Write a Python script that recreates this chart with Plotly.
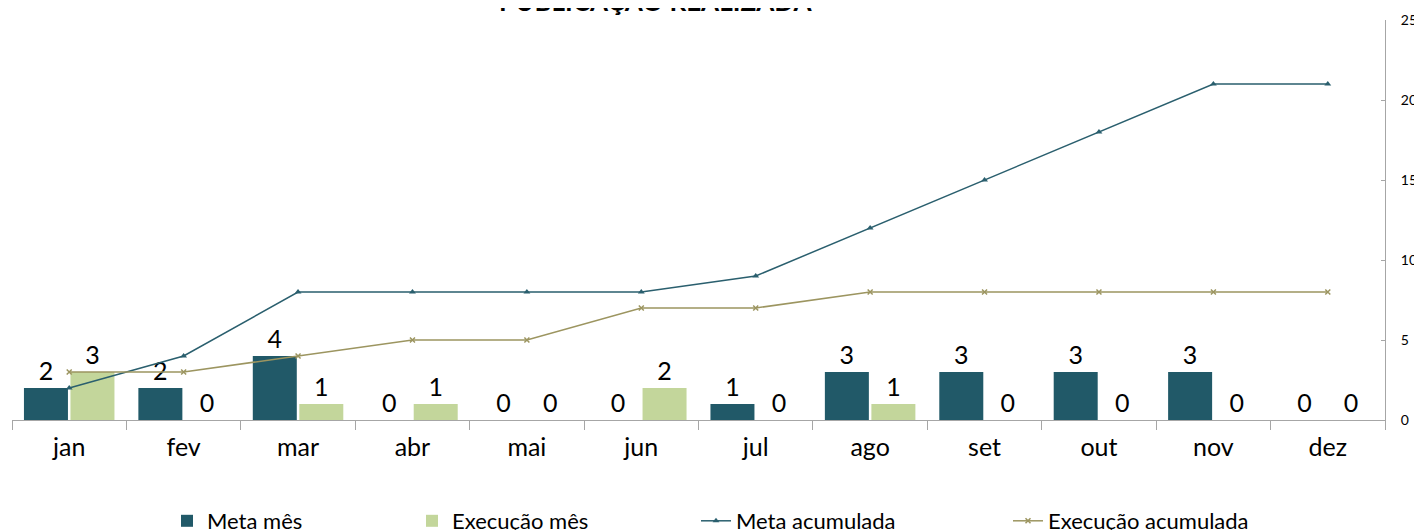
import plotly.graph_objects as go

months = ["jan", "fev", "mar", "abr", "mai", "jun", "jul", "ago", "set", "out", "nov", "dez"]
meta_mes = [2, 2, 4, 0, 0, 0, 1, 3, 3, 3, 3, 0]
exec_mes = [3, 0, 1, 1, 0, 2, 0, 1, 0, 0, 0, 0]
meta_acum = [2, 4, 8, 8, 8, 8, 9, 12, 15, 18, 21, 21]
exec_acum = [3, 3, 4, 5, 5, 7, 7, 8, 8, 8, 8, 8]

# page body has an 8px margin: figure pixel (x, y) shows at screen (x+8, y+8)
OFF = 8
W, H = 1414, 522
ML, MT = 12 - OFF, 20 - OFF
PR, PB = 1385 - OFF, 420 - OFF
MR, MB = W - PR, H - PB
PW = W - ML - MR
PH = H - MT - MB

def px_x(sx):
    return (sx - OFF - ML) / PW

def px_y(sy):
    return (PB - (sy - OFF)) / PH

def cx(sx):
    return (sx - OFF) / W

def cy(sy):
    return (H - (sy - OFF)) / H

FONT = "Lato"
C_META = "#215968"
C_EXEC = "#C3D69B"
C_LMETA = "#2A5F6E"
C_LEXEC = "#9C9560"

fig = go.Figure()
fig.add_trace(go.Bar(
    x=months, y=meta_mes, name="Meta mês", marker=dict(color=C_META, line=dict(width=0)),
    text=meta_mes, textposition="outside", textfont=dict(size=25, color="black", family=FONT),
    constraintext="none", cliponaxis=False, legend="legend",
))
fig.add_trace(go.Bar(
    x=months, y=exec_mes, name="Execução mês", marker=dict(color=C_EXEC, line=dict(width=0)),
    text=exec_mes, textposition="outside", textfont=dict(size=25, color="black", family=FONT),
    constraintext="none", cliponaxis=False, legend="legend2",
))
fig.add_trace(go.Scatter(
    x=months, y=meta_acum, name="Meta acumulada", mode="lines+markers",
    line=dict(color=C_LMETA, width=1.5), marker=dict(symbol="triangle-up", size=6, color=C_LMETA),
    legend="legend3",
))
fig.add_trace(go.Scatter(
    x=months, y=exec_acum, name="Execução acumulada", mode="lines+markers",
    line=dict(color=C_LEXEC, width=1.5), marker=dict(symbol="x-thin", size=5, color=C_LEXEC, line=dict(color=C_LEXEC, width=1.5)),
    legend="legend4",
))

leg_common = dict(orientation="h", yanchor="middle", xanchor="left", xref="container", yref="container",
                  font=dict(size=22, family=FONT, color="black"), itemwidth=30, bgcolor="rgba(0,0,0,0)")
ly = cy(521)

fig.update_layout(
    width=W, height=H,
    showlegend=True,
    margin=dict(l=ML, r=MR, t=MT, b=MB, autoexpand=False),
    plot_bgcolor="white", paper_bgcolor="white",
    barmode="group", bargap=0.187, bargroupgap=0.054,
    font=dict(family=FONT, color="black"),
    xaxis=dict(type="category", range=[-0.5, 11.5], showline=True, linecolor="#A6A6A6", linewidth=1,
               ticks="outside", ticklen=9, tickcolor="#A6A6A6", tickson="boundaries", showgrid=False,
               automargin=False, tickfont=dict(size=25, family=FONT, color="black"), ticklabelstandoff=5),
    yaxis=dict(side="right", range=[0, 25], tickvals=[0, 5, 10, 15, 20, 25], showline=True,
               linecolor="#A6A6A6", linewidth=1, ticks="inside", ticklen=4, tickcolor="#A6A6A6",
               showgrid=False, zeroline=False, tickfont=dict(size=14, family=FONT, color="black"),
               ticklabelstandoff=12, automargin=False),
    legend=dict(x=cx(207 - 40), y=ly, **leg_common),
    legend2=dict(x=cx(452 - 40), y=ly, **leg_common),
    legend3=dict(x=cx(736 - 40), y=ly, **leg_common),
    legend4=dict(x=cx(1048 - 40), y=ly, **leg_common),
    annotations=[dict(text="<b>PUBLICAÇÃO REALIZADA</b>", xref="paper", yref="paper",
                      x=px_x(655), y=px_y(19), xanchor="center", yanchor="bottom", showarrow=False,
                      font=dict(size=26, family=FONT, color="black"))],
)

fig.write_html("out.html")
